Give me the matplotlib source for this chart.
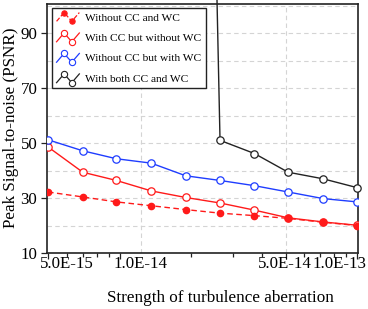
import numpy as np
import matplotlib
matplotlib.use("Agg")
import matplotlib.pyplot as plt
from matplotlib.legend_handler import HandlerBase
from matplotlib.lines import Line2D
from matplotlib.transforms import ScaledTranslation

# ---------------- data ----------------
strength = [5.0e-15, 7.0e-15, 9.7e-15, 1.36e-14, 1.9e-14, 2.65e-14, 3.7e-14, 5.13e-14, 7.2e-14, 1.0e-13]
psnr_none = [32.2, 30.4, 28.6, 27.2, 25.8, 24.5, 23.6, 22.6, 21.2, 20.0]
psnr_cc = [48.6, 39.4, 36.4, 32.6, 30.2, 28.2, 25.6, 22.8, 21.3, 20.1]
psnr_wc = [51.2, 47.2, 44.3, 42.7, 38.1, 36.4, 34.5, 32.2, 29.8, 28.6]
psnr_both = [np.nan, np.nan, np.nan, np.nan, 630.0, 51.0, 46.2, 39.4, 37.0, 33.8]

series_labels = ["Without CC and WC", "With CC but without WC",
                 "Without CC but with WC", "With both CC and WC"]
xtick_values = [5.0e-15, 1.0e-14, 5.0e-14, 1.0e-13]
xtick_labels = ["5.0E-15", "1.0E-14", "5.0E-14", "1.0E-13"]
ytick_values = [10, 30, 50, 70, 90]
xlabel_text = "Strength of turbulence aberration"
ylabel_text = "Peak Signal-to-noise (PSNR)"

# ---------------- style ----------------
plt.rcParams['font.family'] = ['Liberation Serif', 'DejaVu Serif']
plt.rcParams['mathtext.fontset'] = 'stix'

RED = "#ff1a1a"
BLUE = "#1f3dff"
BLACK = "#222222"

W, H, DPI = 368, 309, 100
fig = plt.figure(figsize=(W / DPI, H / DPI), dpi=DPI)
ax = fig.add_axes([47 / W, 1 - 253 / H, (357.5 - 47) / W, (253 - 3.5) / H])

ax.set_xscale('log')
ax.set_xlim(4.95e-15, 1.005e-13)
ax.set_ylim(10, 100.8)

# grid
for yv in range(10, 101, 10):
    ax.axhline(yv, color="#d4d4d4", lw=0.8, ls=(0, (4, 3)), zorder=0)
for xv in [1.227e-14, 5.0e-14]:
    ax.axvline(xv, color="#d4d4d4", lw=0.8, ls=(0, (4, 3)), zorder=0)

l1, = ax.plot(strength, psnr_none, color=RED, lw=1.0, ls=(0, (4, 2.5)),
              marker='o', ms=4.5, mfc=RED, mec=RED, zorder=4, label=series_labels[0])
l2, = ax.plot(strength, psnr_cc, color=RED, lw=1.0, ls='-',
              marker='o', ms=5.3, mfc='white', mec=RED, mew=0.9, zorder=3, label=series_labels[1])
l3, = ax.plot(strength, psnr_wc, color=BLUE, lw=1.0, ls='-',
              marker='o', ms=5.3, mfc='white', mec=BLUE, mew=0.9, zorder=3, label=series_labels[2])
l4, = ax.plot(strength, psnr_both, color=BLACK, lw=1.0, ls='-',
              marker='o', ms=5.3, mfc='white', mec=BLACK, mew=0.9, zorder=3,
              clip_on=False, label=series_labels[3])

# ticks
ax.set_xticks(xtick_values)
ax.set_xticklabels(xtick_labels)
ax.set_xticks([6e-15, 7e-15, 8e-15, 9e-15, 2e-14, 3e-14, 4e-14,
               6e-14, 7e-14, 8e-14, 9e-14], minor=True)
ax.xaxis.set_minor_formatter(plt.NullFormatter())
ax.set_yticks(ytick_values)
ax.yaxis.set_minor_locator(plt.NullLocator())
ax.tick_params(axis='both', which='major', direction='out', length=4, width=0.9,
               labelsize=12.2, colors='#222222', labelcolor='black')
ax.tick_params(axis='x', which='major', pad=-1.5)
ax.tick_params(axis='y', which='major', pad=3.0)
ax.tick_params(axis='x', which='minor', direction='out', length=3, width=0.9, colors='#222222')

# shift x tick labels as in reference
offsets_px = [18.5, 21, -1, -18]
for lab, dx in zip(ax.get_xticklabels(), offsets_px):
    lab.set_transform(lab.get_transform() + ScaledTranslation(dx / DPI, 0, fig.dpi_scale_trans))

for sp in ax.spines.values():
    sp.set_color('#222222')
    sp.set_linewidth(1.2)

ax.set_xlabel(xlabel_text, fontsize=12.3)
ax.set_ylabel(ylabel_text, fontsize=12.3)
ax.xaxis.set_label_coords((220 - 47) / 310.5, (253 - 290) / 249.5)
ax.yaxis.set_label_coords((19 - 47) / 310.5, 0.5)


# zigzag legend handles
class ZigzagHandler(HandlerBase):
    def create_artists(self, legend, orig_handle, xdescent, ydescent,
                       width, height, fontsize, trans):
        xs = np.array([0.0, 0.33, 0.67, 1.0]) * width - xdescent
        ys = np.array([0.0, 1.0, 0.0, 1.0]) * height * 1.1 - ydescent - 0.1 * height
        line = Line2D(xs, ys, color=orig_handle.get_color(),
                      ls=orig_handle.get_linestyle(), lw=0.9)
        mk = Line2D(xs[1:3], ys[1:3], ls='none', marker='o',
                    ms=orig_handle.get_markersize() * 0.85,
                    mfc=orig_handle.get_markerfacecolor(),
                    mec=orig_handle.get_markeredgecolor(), mew=0.8)
        for a in (line, mk):
            a.set_transform(trans)
        return [line, mk]


leg = ax.legend(handles=[l1, l2, l3, l4], loc='upper left',
                bbox_to_anchor=(5 / 310.5, 1 - 4.5 / 249.5),
                fontsize=8.2, frameon=True, fancybox=False, framealpha=1,
                edgecolor='#222222', handlelength=2.0, handletextpad=0.5,
                labelspacing=0.92, borderpad=0.4, borderaxespad=0,
                handler_map={Line2D: ZigzagHandler()})
leg.get_frame().set_linewidth(1.0)
leg.set_zorder(5)

fig.savefig("out.png", dpi=DPI)
